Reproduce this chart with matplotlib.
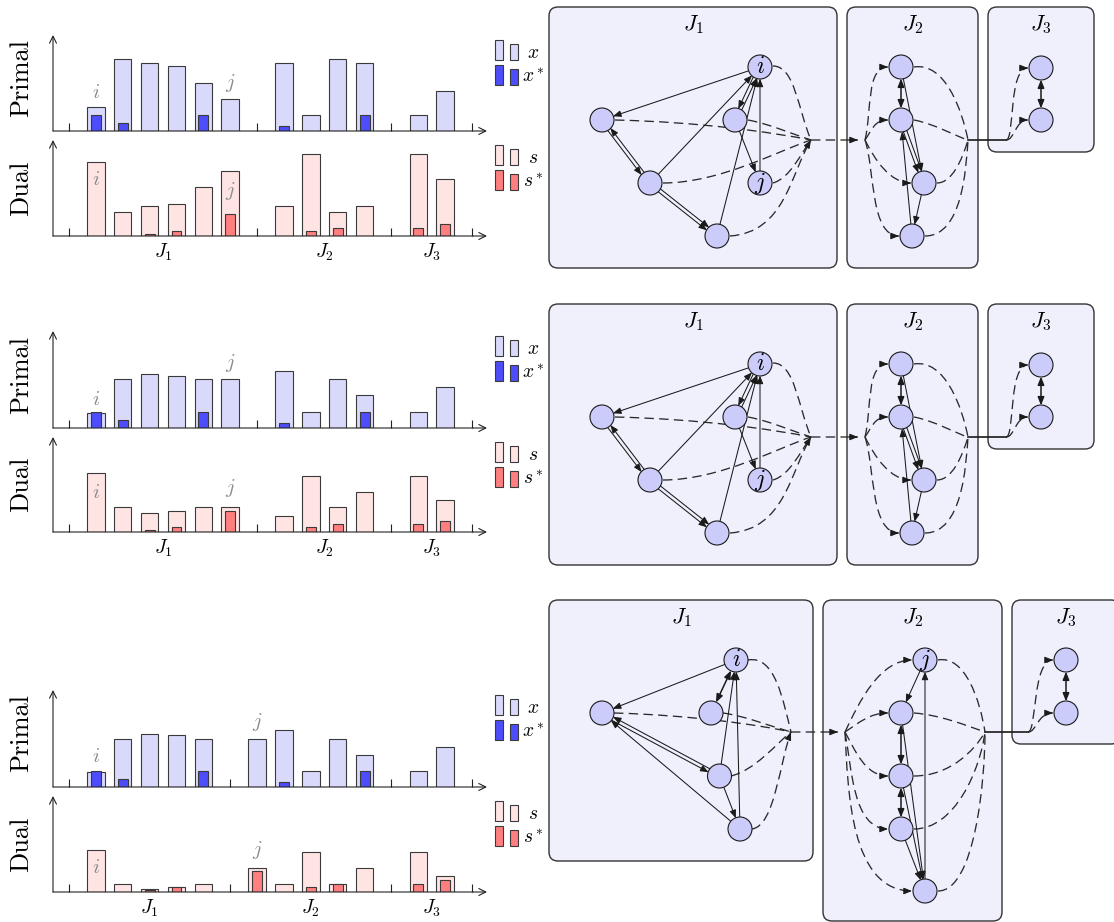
import matplotlib
matplotlib.use('Agg')
import matplotlib.pyplot as plt
import numpy as np
from matplotlib.patches import Circle, FancyArrowPatch, FancyBboxPatch, PathPatch, Rectangle
from matplotlib.path import Path

plt.rcParams['mathtext.fontset'] = 'cm'
plt.rcParams['font.family'] = ['cmr10', 'DejaVu Serif']
plt.rcParams['axes.formatter.use_mathtext'] = True

# ── bar data: one value per constraint column ────────────────────────────────
pos_a = [1, 2, 3, 4, 5, 6, 8, 9, 10, 11, 13, 14]     # rows 1 and 2
pos_b = [1, 2, 3, 4, 5, 7, 8, 9, 10, 11, 13, 14]     # row 3
seps_a = [0, 7, 12, 15]
seps_b = [0, 6, 12, 15]
group_names = ['$J_1$', '$J_2$', '$J_3$']
centers_a = [3.5, 9.5, 13.5]
centers_b = [3, 9, 13.5]

x_top = [3, 9, 8.5, 8.1, 6, 4, 8.5, 2, 9, 8.5, 2, 5]
xs_top = [2, 1, 0, 0, 2, 0, 0.6, 0, 0, 2, 0, 0]
s_top = [9.2, 3, 3.7, 4, 6.1, 8.1, 3.7, 10.2, 3, 3.7, 10.2, 7.1]
ss_top = [0, 0, 0.2, 0.6, 0, 2.7, 0, 0.6, 1.05, 0, 1.05, 1.45]

x_mid = [1.8, 6.1, 6.7, 6.45, 6.1, 6.1, 7.1, 2, 6.1, 4.05, 2, 5.05]
xs_mid = [2, 0.95, 0, 0, 2, 0, 0.6, 0, 0, 2, 0, 0]
s_mid = [7.4, 3.1, 2.45, 2.65, 3.1, 3.1, 2.05, 7.1, 3.1, 5.1, 7.1, 4.1]
ss_mid = [0, 0, 0.25, 0.6, 0, 2.65, 0, 0.6, 1.05, 0, 1.05, 1.45]

x_bot = [1.8, 6, 6.6, 6.4, 6, 6, 7, 2, 6, 4, 2, 5]
xs_bot = [2, 1, 0, 0, 2, 0, 0.6, 0, 0, 2, 0, 0]
s_bot = [5.2, 1.05, 0.4, 0.6, 1.05, 3.05, 1.05, 5, 1.05, 3.05, 5, 2]
ss_bot = [0, 0, 0.2, 0.6, 0, 2.6, 0, 0.6, 1.05, 0, 1.05, 1.45]

# i / j markers (column, height)
mark_p_top = [(1, 4.75, 'i'), (6, 6.0, 'j')]
mark_d_top = [(1, 7.0, 'i'), (6, 5.6, 'j')]
mark_p_mid = [(1, 3.5, 'i'), (6, 8.1, 'j')]
mark_d_mid = [(1, 4.9, 'i'), (6, 5.5, 'j')]
mark_p_bot = [(1, 3.75, 'i'), (7, 8.0, 'j')]
mark_d_bot = [(1, 3.0, 'i'), (7, 5.25, 'j')]

# ── graph data (pixel space of the figure) ───────────────────────────────────
ga_nodes = {'a': (602, 120), 'i': (760, 67), 'c': (735, 120), 'j': (760, 183),
            'e': (650, 183), 'f': (717, 236),
            'p': (901, 67), 'q': (901, 120), 'r': (924, 183), 's': (912, 236),
            'u': (1041, 68), 'v': (1041, 120)}
ga_boxes = [(549, 7, 837, 268, '$J_1$'), (847, 7, 978, 268, '$J_2$'),
            (988, 7, 1094, 152, '$J_3$')]
ga_single = [('i', 'a'), ('e', 'i'), ('f', 'i'), ('c', 'j'), ('j', 'i'),
             ('p', 'r'), ('r', 's'), ('s', 'q')]
ga_opposite = [('a', 'e'), ('i', 'c')]
ga_twin = [('e', 'f'), ('q', 'r')]
ga_double = [('p', 'q'), ('u', 'v')]
ga_curves = [
    (615, 120, 700, 122, 770, 132, 811, 140, 0),
    (748, 120, 770, 124, 795, 135, 811, 140, 0),
    (663, 183, 720, 183, 780, 150, 811, 140, 0),
    (773, 66, 795, 66, 798, 110, 811, 140, 0),
    (773, 183, 790, 178, 800, 155, 811, 140, 0),
    (730, 236, 785, 232, 790, 175, 811, 140, 1),
    (811, 140, 830, 140, 845, 140, 858, 140, 1),
    (865, 140, 872, 110, 866, 67, 888, 67, 1),
    (865, 140, 872, 130, 874, 120, 888, 120, 1),
    (865, 140, 875, 160, 890, 183, 911, 183, 1),
    (865, 140, 875, 170, 870, 236, 899, 236, 1),
    (914, 67, 945, 62, 962, 110, 968, 140, 0),
    (914, 120, 935, 124, 955, 136, 968, 140, 0),
    (937, 183, 952, 183, 962, 160, 968, 140, 0),
    (925, 236, 962, 236, 966, 170, 968, 140, 0),
    (1006, 140, 1015, 140, 1008, 68, 1028, 68, 1),
    (1006, 140, 1015, 140, 1015, 120, 1028, 120, 1),
]
ga_links = [(968, 140, 1006, 140)]
ga_names = {'i': '$i$', 'j': '$j$'}
ga_shifts = [0, 297]

gb_nodes = {'a': (602, 713), 'i': (736, 660), 'c': (711, 713), 'd': (719.5, 776),
            'e': (740, 829),
            'j': (925, 660), 'q': (901, 713), 'r': (901, 776), 's': (901, 829),
            't': (925, 891), 'u': (1066, 660), 'v': (1066, 713)}
gb_boxes = [(549, 600, 813, 861, '$J_1$'), (823, 600, 1002, 921, '$J_2$'),
            (1012, 600, 1120, 744, '$J_3$')]
gb_single = [('i', 'a'), ('e', 'a'), ('d', 'i'), ('e', 'i'), ('d', 'e'),
             ('j', 'q'), ('q', 't'), ('r', 't'), ('s', 't'), ('t', 'j')]
gb_opposite = [('a', 'd')]
gb_twin = []
gb_double = [('i', 'c'), ('q', 'r'), ('r', 's'), ('u', 'v')]
gb_curves = [
    (614, 713, 690, 715, 760, 725, 791, 732, 0),
    (723, 713, 745, 716, 770, 726, 791, 732, 0),
    (731, 776, 755, 770, 775, 745, 791, 732, 0),
    (748, 660, 775, 655, 783, 700, 791, 732, 0),
    (752, 829, 775, 826, 780, 760, 791, 732, 1),
    (791, 732, 810, 732, 825, 732, 838, 732, 1),
    (845, 732, 860, 700, 880, 660, 912, 660, 1),
    (845, 732, 860, 722, 870, 713, 888, 713, 1),
    (845, 732, 855, 750, 865, 776, 888, 776, 1),
    (845, 732, 852, 770, 853, 829, 888, 829, 1),
    (845, 732, 848, 790, 850, 891, 912, 891, 1),
    (938, 660, 965, 655, 980, 700, 985, 732, 0),
    (914, 713, 940, 715, 965, 725, 985, 732, 0),
    (914, 776, 950, 776, 975, 750, 985, 732, 0),
    (914, 829, 955, 829, 980, 770, 985, 732, 0),
    (938, 891, 975, 891, 985, 780, 985, 732, 0),
    (1028, 732, 1037, 732, 1032, 660, 1053, 660, 1),
    (1028, 732, 1037, 732, 1037, 713, 1053, 713, 1),
]
gb_links = [(985, 732, 1028, 732)]
gb_names = {'i': '$i$', 'j': '$j$'}

# ── style ────────────────────────────────────────────────────────────────────
W, H = 1114, 922
EDGE = '#3a3a3a'
AXIS = '#222222'
INK = '#1a1a1a'
DASH_INK = '#2a2a2a'
GREY = '#8c8c8c'
X_LIGHT, X_DARK = '#d9d9fb', '#4d4dfb'
S_LIGHT, S_DARK = '#ffe4e4', '#ff7f7f'
NODE_FACE = '#ccccfa'
BOX_FACE = '#f0f0fd'
R = 12
HEAD = '-|>,head_length=0.8,head_width=0.32'
DHEAD = '<|-|>,head_length=0.8,head_width=0.32'
DASH_LW = 0.95
DASHES = (0, (6.8 / DASH_LW, 3.8 / DASH_LW))

AX_L, AX_R = 53, 487
PX0, PXU = 69, 26.87            # column 0 at 69 px, 26.87 px per column
X_LO, X_HI = (AX_L - PX0) / PXU, (AX_R - PX0) / PXU
rows_px = [(35, 131, 140, 236), (331, 428, 437, 532), (690, 787, 796, 892)]

fig = plt.figure(figsize=(W / 100, H / 100), dpi=100)
gx = fig.add_axes([0, 0, 1, 1])
gx.set_xlim(0, W)
gx.set_ylim(H, 0)
gx.set_axis_off()
gx.patch.set_visible(False)


def px_axes(l, t, r, b):
    return fig.add_axes([l / W, 1 - b / H, (r - l) / W, (b - t) / H])


def bar_panel(ax, pos, big, small, light, dark, seps, centers, marks, show_groups):
    pos = np.asarray(pos, float)
    big = np.asarray(big, float)
    small = np.asarray(small, float)
    ax.bar(pos, big, width=0.65, color=light, edgecolor=EDGE, linewidth=0.8, zorder=2)
    m = small > 0
    ax.bar(pos[m], small[m], width=0.37, color=dark, edgecolor=EDGE, linewidth=0.8, zorder=3)
    for xm, ym, name in marks:
        ax.text(xm, ym, f'${name}$', color=GREY, fontsize=15, ha='center', va='center', zorder=4)
    ax.set_xlim(X_LO, X_HI)
    ax.set_ylim(0, 12)
    for sp in ax.spines.values():
        sp.set_visible(False)
    ax.patch.set_visible(False)
    ax.set_yticks([])
    ax.set_xticks(seps, minor=True)
    if show_groups:
        ax.set_xticks(centers, group_names, fontsize=14)
    else:
        ax.set_xticks([])
    ax.tick_params(axis='x', which='minor', direction='in', length=6, width=0.8, color=AXIS)
    ax.tick_params(axis='x', which='major', length=0, pad=4)
    for xy in [(1, 0), (0, 1)]:
        ax.annotate('', xy=xy, xytext=(0, 0), xycoords='axes fraction',
                    annotation_clip=False,
                    arrowprops=dict(arrowstyle='->,head_length=0.5,head_width=0.25',
                                    lw=0.8, color=AXIS, shrinkA=0, shrinkB=0))


def legend_pair(top, face, label):
    gx.add_patch(Rectangle((495, top), 8, 20, fc=face, ec=EDGE, lw=0.8))
    gx.add_patch(Rectangle((510, top + 4), 8, 16, fc=face, ec=EDGE, lw=0.8))
    gx.text(533, top + 18, label, ha='center', va='baseline', fontsize=14)


row_data = [
    (pos_a, seps_a, centers_a, x_top, xs_top, s_top, ss_top, mark_p_top, mark_d_top),
    (pos_a, seps_a, centers_a, x_mid, xs_mid, s_mid, ss_mid, mark_p_mid, mark_d_mid),
    (pos_b, seps_b, centers_b, x_bot, xs_bot, s_bot, ss_bot, mark_p_bot, mark_d_bot),
]

for (pt, pb, dt, db), (pos, seps, cen, xv, xsv, sv, ssv, mp, md) in zip(rows_px, row_data):
    axp = px_axes(AX_L, pt, AX_R, pb)
    axd = px_axes(AX_L, dt, AX_R, db)
    bar_panel(axp, pos, xv, xsv, X_LIGHT, X_DARK, seps, cen, mp, False)
    bar_panel(axd, pos, sv, ssv, S_LIGHT, S_DARK, seps, cen, md, True)
    fig.text(21 / W, 1 - ((pt + pb) / 2 - 5) / H, 'Primal', rotation=90,
             ha='center', va='center', fontsize=19)
    fig.text(21 / W, 1 - ((dt + db) / 2) / H, 'Dual', rotation=90,
             ha='center', va='center', fontsize=19)
    legend_pair(pt + 5, X_LIGHT, '$x$')
    legend_pair(pt + 30, X_DARK, '$x^*$')
    legend_pair(dt + 5, S_LIGHT, '$s$')
    legend_pair(dt + 30, S_DARK, '$s^*$')


# ── graphs ───────────────────────────────────────────────────────────────────
def add_head(p_from, p_to):
    d = np.subtract(p_to, p_from)
    d = d / np.hypot(*d)
    start = np.asarray(p_to) - 5 * d
    gx.add_patch(FancyArrowPatch(tuple(start), tuple(p_to), arrowstyle=HEAD,
                                 mutation_scale=6, color=INK, lw=0.8,
                                 shrinkA=0, shrinkB=0, zorder=3))


def draw_graph(nodes, boxes, single, opposite, twin, double, curves, links, names, dy=0):
    for x0, y0, x1, y1, title in boxes:
        gx.add_patch(FancyBboxPatch((x0, y0 + dy), x1 - x0, y1 - y0,
                                    boxstyle='round,pad=0,rounding_size=9',
                                    fc=BOX_FACE, ec='#333333', lw=1.0, zorder=1))
        gx.text((x0 + x1) / 2, y0 + dy + 18, title, ha='center', va='center',
                fontsize=16, zorder=6)
    circ = {}
    for k, (x, y) in nodes.items():
        c = Circle((x, y + dy), R, fc=NODE_FACE, ec=INK, lw=0.8, zorder=5)
        gx.add_patch(c)
        circ[k] = c
        if k in names:
            gx.text(x, y + dy, names[k], ha='center', va='center', fontsize=17, zorder=6)

    def edge(a, b, style, off=0.0, lw=0.75):
        pa = np.array([nodes[a][0], nodes[a][1] + dy], float)
        pb = np.array([nodes[b][0], nodes[b][1] + dy], float)
        d = pb - pa
        n = np.array([-d[1], d[0]]) / np.hypot(*d)
        gx.add_patch(FancyArrowPatch(tuple(pa + off * n), tuple(pb + off * n),
                                     patchA=circ[a], patchB=circ[b],
                                     arrowstyle=style, mutation_scale=6,
                                     color=INK, lw=lw, shrinkA=0, shrinkB=0, zorder=4))

    for a, b in single:
        edge(a, b, HEAD)
    for a, b in opposite:
        edge(a, b, HEAD, 1.8)
        edge(b, a, HEAD, 1.8)
    for a, b in twin:
        edge(a, b, HEAD, 1.8)
        edge(a, b, HEAD, -1.8)
    for a, b in double:
        edge(a, b, DHEAD, lw=1.1)

    for x0, y0, c1x, c1y, c2x, c2y, x3, y3, head in curves:
        verts = [(x0, y0 + dy), (c1x, c1y + dy), (c2x, c2y + dy), (x3, y3 + dy)]
        path = Path(verts, [Path.MOVETO, Path.CURVE4, Path.CURVE4, Path.CURVE4])
        gx.add_patch(PathPatch(path, fill=False, ec=DASH_INK, lw=DASH_LW,
                               ls=DASHES, zorder=2))
        if head:
            add_head(verts[2], verts[3])
    for x0, y0, x1, y1 in links:
        gx.plot([x0, x1], [y0 + dy, y1 + dy], color=INK, lw=1.2, zorder=2)


for shift in ga_shifts:
    draw_graph(ga_nodes, ga_boxes, ga_single, ga_opposite, ga_twin, ga_double,
               ga_curves, ga_links, ga_names, shift)
draw_graph(gb_nodes, gb_boxes, gb_single, gb_opposite, gb_twin, gb_double,
           gb_curves, gb_links, gb_names)

fig.savefig('out.png', dpi=100)
plt.close(fig)
